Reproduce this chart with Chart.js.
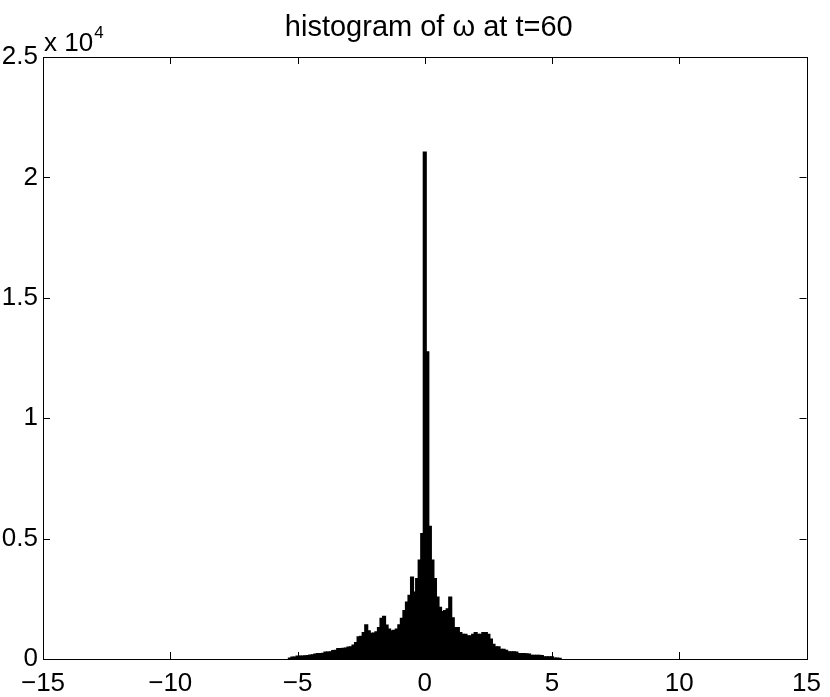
<!DOCTYPE html>
<html>
<head>
<meta charset="utf-8">
<script src="https://cdn.jsdelivr.net/npm/chart.js@4"></script>
<style>
  html, body { margin: 0; padding: 0; background: #fff; }
  #wrap { width: 830px; height: 697px; }
</style>
</head>
<body>
<div id="wrap"><canvas id="hist" width="830" height="697"></canvas></div>
<script>
/* --------------- Bin centres (omega) --------------- */
const binCenters = [
  -5.3, -5.2, -5.1, -5.0, -4.9, -4.8, -4.7, -4.6, -4.5, -4.4,
  -4.3, -4.2, -4.1, -4.0, -3.9, -3.8, -3.7, -3.6, -3.5, -3.4,
  -3.3, -3.2, -3.1, -3.0, -2.9, -2.8, -2.7, -2.6, -2.5, -2.4,
  -2.3, -2.2, -2.1, -2.0, -1.9, -1.8, -1.7, -1.6, -1.5, -1.4,
  -1.3, -1.2, -1.1, -1.0, -0.9, -0.8, -0.7, -0.6, -0.5, -0.4,
  -0.3, -0.2, -0.1, 0.0, 0.1, 0.2, 0.3, 0.4, 0.5, 0.6,
  0.7, 0.8, 0.9, 1.0, 1.1, 1.2, 1.3, 1.4, 1.5, 1.6,
  1.7, 1.8, 1.9, 2.0, 2.1, 2.2, 2.3, 2.4, 2.5, 2.6,
  2.7, 2.8, 2.9, 3.0, 3.1, 3.2, 3.3, 3.4, 3.5, 3.6,
  3.7, 3.8, 3.9, 4.0, 4.1, 4.2, 4.3, 4.4, 4.5, 4.6,
  4.7, 4.8, 4.9, 5.0, 5.1, 5.2, 5.3
];
/* --------------- Counts per bin --------------- */
const binCounts = [
  30, 70, 70, 110, 110, 110, 120, 130, 150, 160,
  190, 220, 220, 230, 280, 280, 290, 340, 350, 420,
  420, 430, 440, 490, 500, 570, 670, 910, 930, 1090,
  1410, 1160, 1060, 1070, 1120, 1300, 1680, 1760, 1400, 1230,
  1160, 1180, 1230, 1410, 1680, 2000, 2350, 2630, 3390, 2770,
  3330, 4100, 5200, 21040, 12750, 5500, 4100, 3330, 2560, 2140,
  1960, 2000, 2070, 2560, 1700, 1300, 1300, 1090, 1020, 1020,
  950, 950, 1020, 1090, 1020, 1020, 1090, 1090, 1020, 820,
  600, 500, 500, 390, 390, 350, 290, 290, 290, 280,
  220, 220, 220, 210, 200, 140, 140, 140, 140, 130,
  85, 85, 85, 85, 30, 30, 20
];
/* --------------- Axis ticks --------------- */
const xTicks = [-15, -10, -5, 0, 5, 10, 15];
const yTicks = [0, 5000, 10000, 15000, 20000, 25000];
const yScaleExp = 4;
const titleText = "histogram of \u03c9 at t=60";

const FONT = "'Liberation Sans', Arial, Helvetica, sans-serif";

/* --------------- Box, inward ticks, title, exponent --------------- */
const matlabBox = {
  id: "matlabBox",
  afterDraw(chart) {
    const { ctx, chartArea: a, scales } = chart;
    ctx.save();
    ctx.strokeStyle = "#000";
    ctx.lineWidth = 1;
    ctx.strokeRect(Math.round(a.left) + 0.5, Math.round(a.top) + 0.5,
      Math.round(a.right - a.left), Math.round(a.bottom - a.top));
    const tl = 7;
    ctx.beginPath();
    xTicks.forEach(v => {
      const px = Math.round(scales.x.getPixelForValue(v)) + 0.5;
      ctx.moveTo(px, a.bottom); ctx.lineTo(px, a.bottom - tl);
      ctx.moveTo(px, a.top); ctx.lineTo(px, a.top + tl);
    });
    yTicks.forEach(v => {
      const py = Math.round(scales.y.getPixelForValue(v)) + 0.5;
      ctx.moveTo(a.left, py); ctx.lineTo(a.left + tl, py);
      ctx.moveTo(a.right, py); ctx.lineTo(a.right - tl, py);
    });
    ctx.stroke();

    // exponent label
    ctx.fillStyle = "#000";
    ctx.textBaseline = "alphabetic";
    ctx.textAlign = "left";
    ctx.font = "26px " + FONT;
    ctx.fillText("x 10", a.left + 1, 51);
    const w = ctx.measureText("x 10").width;
    ctx.font = "17px " + FONT;
    ctx.fillText(String(yScaleExp), a.left + 2 + w, 38);

    // title
    ctx.font = "29px " + FONT;
    ctx.textAlign = "center";
    ctx.fillText(titleText, (a.left + a.right) / 2 + 4, 36);
    ctx.restore();
  }
};

const fmtMinus = v => (v < 0 ? "\u2212" + Math.abs(v) : String(v));

new Chart(document.getElementById("hist"), {
  type: "bar",
  plugins: [matlabBox],
  data: {
    datasets: [{
      data: binCenters.map((c, i) => ({ x: c, y: binCounts[i] })),
      backgroundColor: "#000",
      borderWidth: 0,
      inflateAmount: 0.8,
      barPercentage: 1,
      categoryPercentage: 1
    }]
  },
  options: {
    responsive: false,
    animation: false,
    layout: { padding: { top: 57, right: 19, left: 0, bottom: 0 } },
    plugins: { legend: { display: false }, tooltip: { enabled: false }, title: { display: false } },
    scales: {
      x: {
        type: "linear",
        offset: false,
        min: -15, max: 15,
        afterFit: s => { s.height = 38; },
        afterBuildTicks: s => { s.ticks = xTicks.map(v => ({ value: v })); },
        grid: { display: false, drawTicks: false, offset: false },
        border: { display: false },
        ticks: { color: "#000", font: { family: FONT, size: 26 }, padding: 9, maxRotation: 0, callback: fmtMinus }
      },
      y: {
        min: 0, max: 25000,
        afterFit: s => { s.width = 43; },
        afterBuildTicks: s => { s.ticks = yTicks.map(v => ({ value: v })); },
        grid: { display: false, drawTicks: false },
        border: { display: false },
        ticks: { color: "#000", font: { family: FONT, size: 26 }, padding: 5, callback: v => String(v / 10000) }
      }
    }
  }
});
</script>
</body>
</html>
